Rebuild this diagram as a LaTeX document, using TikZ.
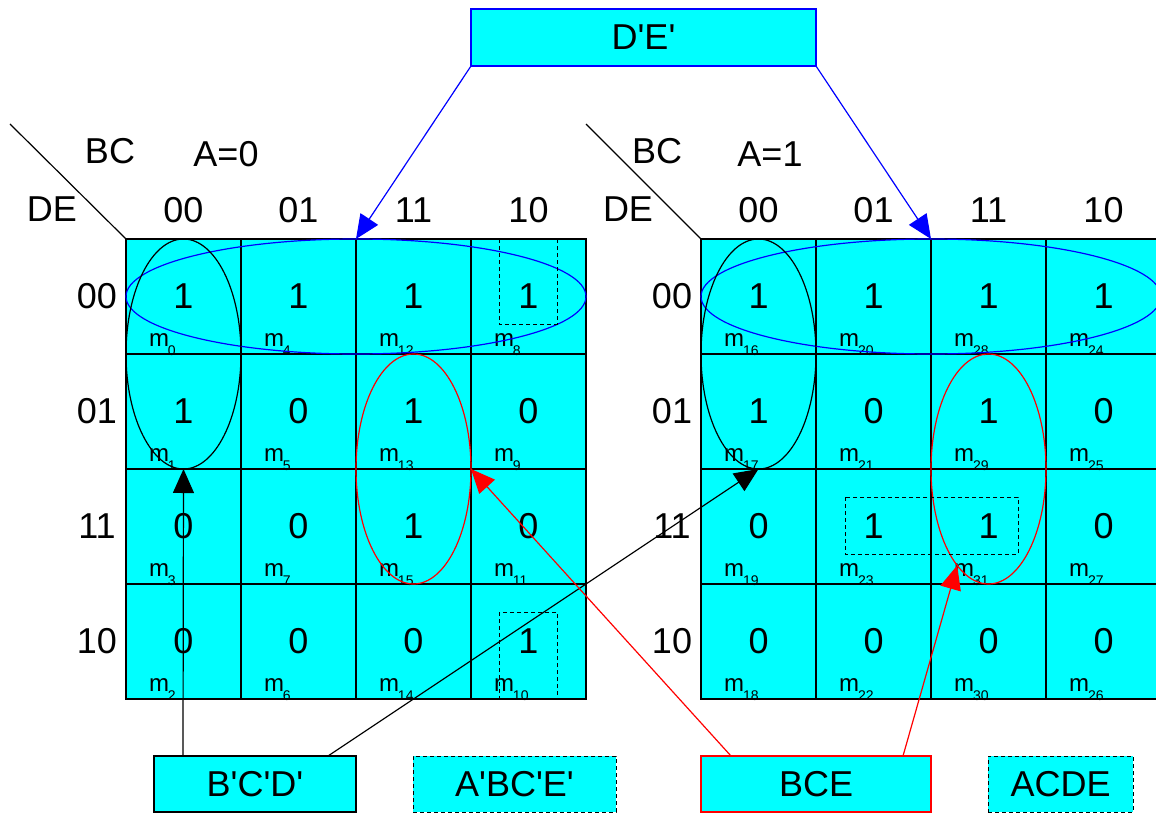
\documentclass[tikz,border=0pt]{standalone}
\usepackage{fontspec}
\setmainfont{Liberation Sans}
\usetikzlibrary{shapes.geometric,arrows.meta}
\definecolor{kcyan}{RGB}{0,255,255}
\definecolor{kblue}{RGB}{0,0,255}
\definecolor{kred}{RGB}{255,0,0}
\newcommand\kfont{\fontsize{36}{40}\selectfont}
\newcommand\ap{\textquotesingle}
\newcommand\mlab[1]{{\fontsize{24}{24}\selectfont m}\kern-1pt\raisebox{-9pt}{\fontsize{14}{14}\selectfont #1}}
% column/row/value/minterm for each half of the map
\def\Llist{0/0/1/0, 1/0/1/4, 2/0/1/12, 3/0/1/8,
           0/1/1/1, 1/1/0/5, 2/1/1/13, 3/1/0/9,
           0/2/0/3, 1/2/0/7, 2/2/1/15, 3/2/0/11,
           0/3/0/2, 1/3/0/6, 2/3/0/14, 3/3/1/10}
\def\Rlist{0/0/1/16, 1/0/1/20, 2/0/1/28, 3/0/1/24,
           0/1/1/17, 1/1/0/21, 2/1/1/29, 3/1/0/25,
           0/2/0/19, 1/2/1/23, 2/2/1/31, 3/2/0/27,
           0/3/0/18, 1/3/0/22, 2/3/0/30, 3/3/0/26}
\begin{document}
\begin{tikzpicture}[x=1pt,y=-1pt,
  every node/.style={inner sep=0pt,outer sep=0pt},
  cellbox/.style={draw=black,line width=1.3pt,fill=kcyan,minimum width=115pt,minimum height=115pt,font=\kfont},
  lbl/.style={font=\kfont},
  mtag/.style={anchor=base west},
  colgrp/.style={ellipse,line width=1.2pt,minimum width=115pt,minimum height=230pt},
  rowgrp/.style={ellipse,draw=kblue,line width=1.2pt,minimum width=460pt,minimum height=115pt},
  dgrp/.style={draw=black,line width=1pt,dash pattern=on 4pt off 3pt},
  termbox/.style={fill=kcyan,line width=1.2pt,font=\kfont,minimum height=56pt},
  conn/.style={line width=1.2pt,-{Triangle[length=24pt,width=21pt]}},
]
\useasboundingbox (0,0) rectangle (1156,813);

% cells of both halves
\foreach \c/\r/\v/\i in \Llist
  \node[cellbox] (L\c\r) at ({183.5+115*\c},{296.5+115*\r}) {\v};
\foreach \c/\r/\v/\i in \Rlist
  \node[cellbox] (R\c\r) at ({758.5+115*\c},{296.5+115*\r}) {\v};

% minterm labels
\foreach \c/\r/\v/\i in \Llist
  \node[mtag] at ({149+115*\c},{346+115*\r}) {\mlab{\i}};
\foreach \c/\r/\v/\i in \Rlist
  \node[mtag] at ({724+115*\c},{346+115*\r}) {\mlab{\i}};

% headers
\foreach \t [count=\k from 0] in {00,01,11,10} {
  \node[lbl] (Lh\k) at ({183.5+115*\k},210) {\t};
  \node[lbl] (Rh\k) at ({758.5+115*\k},210) {\t};
  \node[lbl] (Lv\k) at (97,{296.5+115*\k}) {\t};
  \node[lbl] (Rv\k) at (672,{296.5+115*\k}) {\t};
}
\node[lbl] (Lbc) at (110,151) {BC};
\node[lbl] (La) at (226,154) {A=0};
\node[lbl] (Lde) at (52,209) {DE};
\node[lbl] (Rbc) at (657,151) {BC};
\node[lbl] (Ra) at (770,154) {A=1};
\node[lbl] (Rde) at (628,209) {DE};
\draw[line width=1.2pt] (10,124) -- (L00.north west);
\draw[line width=1.2pt] (586,124) -- (R00.north west);

% groupings
\node[rowgrp] (eLb) at (356,296.5) {};
\node[rowgrp] (eRb) at (931,296.5) {};
\node[colgrp,draw=black] (eLk) at (183.5,354) {};
\node[colgrp,draw=black] (eRk) at (758.5,354) {};
\node[colgrp,draw=kred] (eLr) at (413.5,469) {};
\node[colgrp,draw=kred] (eRr) at (988.5,469) {};
\draw[dgrp] (499,239) rectangle (557,324);
\draw[dgrp] (499,612) rectangle (557,698);
\draw[dgrp] (845,497) rectangle (1018,554);

% product terms
\node[termbox,draw=kblue,minimum width=345pt,minimum height=57pt] (tDE) at (643.5,37.5) {D\ap E\ap};
\node[termbox,draw=black,minimum width=202pt] (tBCD) at (255,784) {B\ap C\ap D\ap};
\node[termbox,dgrp,minimum width=203pt] (tABCE) at (514.5,784) {A\ap BC\ap E\ap};
\node[termbox,draw=kred,minimum width=230pt] (tBCE) at (816,784) {BCE};
\node[termbox,dgrp,minimum width=145pt] (tACDE) at (1060.5,784) {ACDE};

% connectors
\draw[conn,kblue] (tDE.south west) -- (eLb.north);
\draw[conn,kblue] (tDE.south east) -- (eRb.north);
\draw[conn,black] ([xshift=29pt]tBCD.north west) -- (eLk.south);
\draw[conn,black] ([xshift=174pt]tBCD.north west) -- (eRk.south);
\draw[conn,kred] ([xshift=30pt]tBCE.north west) -- (eLr.east);
\draw[conn,kred] ([xshift=202pt]tBCE.north west) -- (eRr.252);
\end{tikzpicture}
\end{document}
